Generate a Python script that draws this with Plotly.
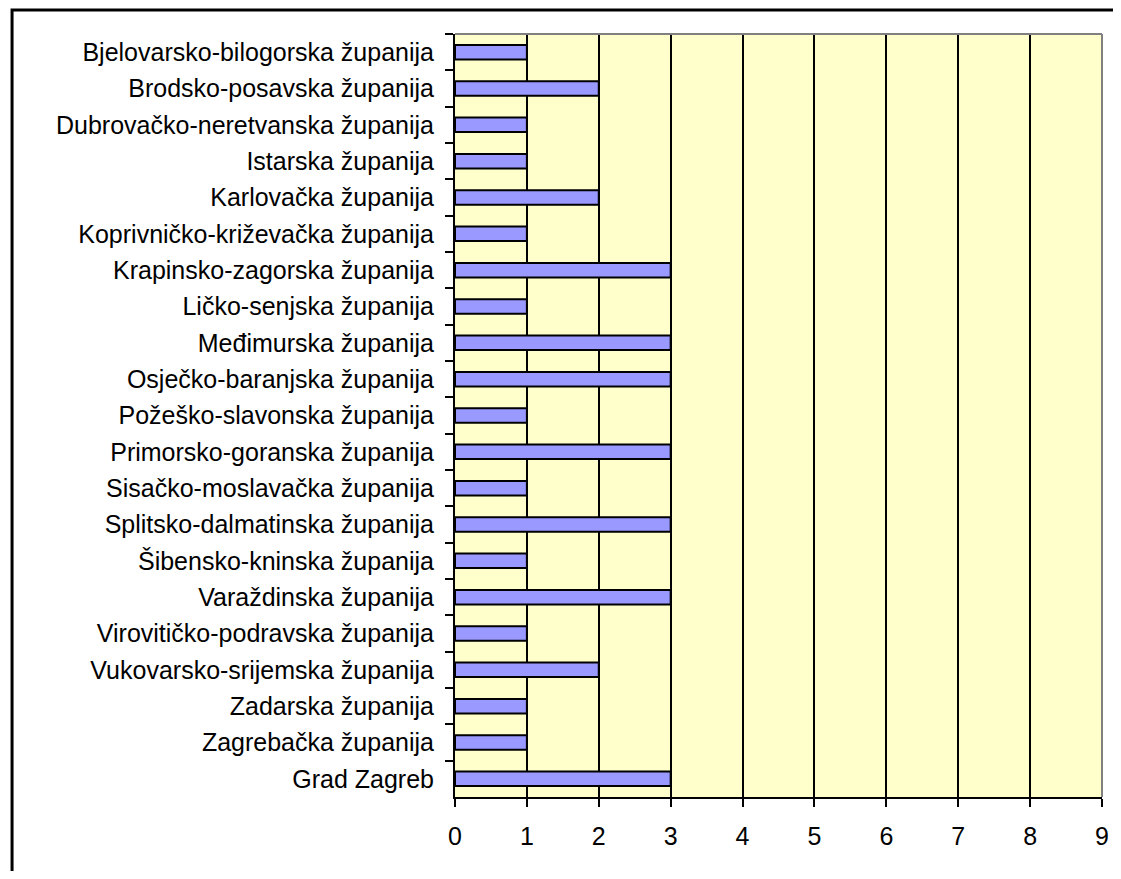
import plotly.graph_objects as go

counties = [
    "Bjelovarsko-bilogorska županija",
    "Brodsko-posavska županija",
    "Dubrovačko-neretvanska županija",
    "Istarska županija",
    "Karlovačka županija",
    "Koprivničko-križevačka županija",
    "Krapinsko-zagorska županija",
    "Ličko-senjska županija",
    "Međimurska županija",
    "Osječko-baranjska županija",
    "Požeško-slavonska županija",
    "Primorsko-goranska županija",
    "Sisačko-moslavačka županija",
    "Splitsko-dalmatinska županija",
    "Šibensko-kninska županija",
    "Varaždinska županija",
    "Virovitičko-podravska županija",
    "Vukovarsko-srijemska županija",
    "Zadarska županija",
    "Zagrebačka županija",
    "Grad Zagreb",
]
values = [1, 2, 1, 1, 2, 1, 3, 1, 3, 3, 1, 3, 1, 3, 1, 3, 1, 2, 1, 1, 3]
x_ticks = [0, 1, 2, 3, 4, 5, 6, 7, 8, 9]

# page body has an 8px margin; figure coordinates below are page coords - 8
W, H = 1113, 863
L, R, T, B = 447, 1097, 26, 789
pw, ph = R - L, B - T

def px_x(p):
    return (p - L) / pw

def px_y(p):
    return (B - p) / ph

fig = go.Figure(go.Bar(
    x=values, y=counties, orientation="h",
    marker=dict(color="#9999FF", line=dict(color="black", width=2)),
    width=0.4,
))

fig.update_layout(
    width=W, height=H,
    margin=dict(l=L, r=W - R, t=T, b=H - B, pad=0),
    paper_bgcolor="white",
    plot_bgcolor="#FFFFCC",
    font=dict(family="Liberation Sans, Arial, sans-serif", size=25, color="black"),
    showlegend=False,
)
fig.update_xaxes(
    range=[0, 9], tickvals=x_ticks, ticktext=[str(v) for v in x_ticks],
    showgrid=True, gridcolor="black", gridwidth=2,
    showline=True, linecolor="black", linewidth=2,
    ticks="outside", ticklen=8, tickwidth=2, tickcolor="black",
    zeroline=False, ticklabelstandoff=8,
)
fig.update_yaxes(
    type="category", categoryorder="array", categoryarray=counties,
    autorange="reversed",
    showgrid=False, showline=True, linecolor="black", linewidth=2,
    ticks="outside", ticklen=8, tickwidth=2, tickcolor="black",
    tickson="boundaries", ticklabelstandoff=14,
)

shapes = [
    dict(type="line", xref="paper", yref="paper", x0=0, x1=1, y0=1, y1=1,
         line=dict(color="#808080", width=2)),
    dict(type="line", xref="paper", yref="paper", x0=1, x1=1, y0=0, y1=1,
         line=dict(color="#808080", width=2)),
    dict(type="rect", xref="paper", yref="paper",
         x0=px_x(2), x1=px_x(1140), y0=px_y(2), y1=px_y(900),
         line=dict(color="black", width=3), fillcolor="rgba(0,0,0,0)"),
]
fig.update_layout(shapes=shapes)

fig.write_html("out.html")
